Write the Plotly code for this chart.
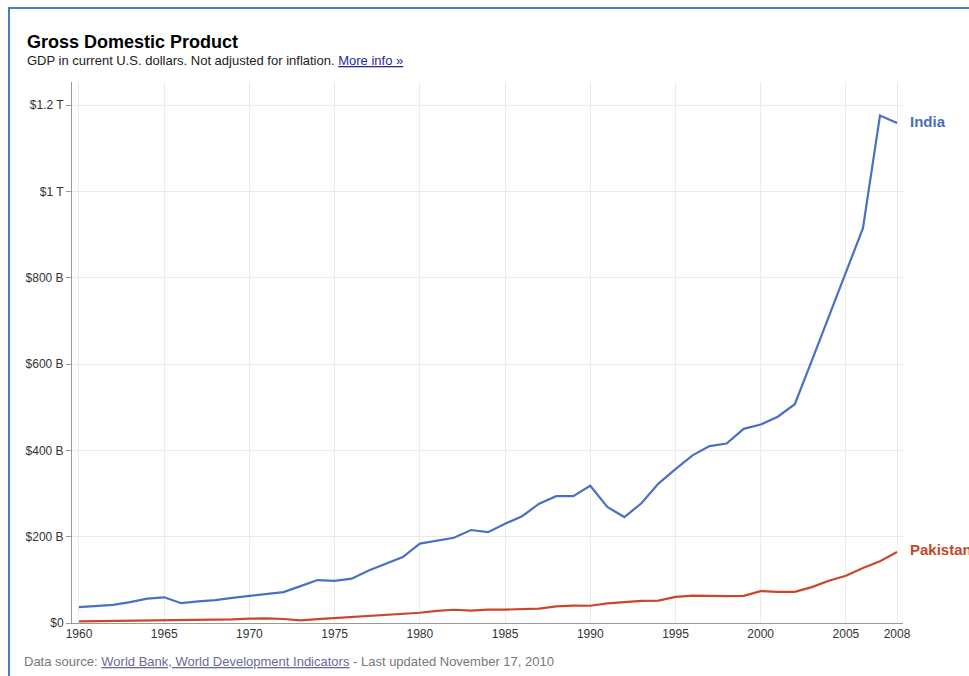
import plotly.graph_objects as go

years = list(range(1960, 2009))
india_gdp_b = [36.6, 39.2, 42.2, 48.4, 56.5, 59.6, 45.9, 50.1, 53.1, 58.4,
               62.4, 67.4, 71.5, 85.5, 99.5, 97.5, 102.7, 121.5, 137.3, 152.9,
               184.0, 190.5, 197.5, 215.5, 210.5, 230.0, 247.5, 276.5, 294.0, 294.0,
               318.0, 269.0, 245.5, 277.5, 323.0, 356.5, 388.5, 410.0, 416.0, 450.0,
               460.0, 478.0, 507.0, 608.0, 709.0, 812.0, 915.0, 1176.0, 1159.0]
pakistan_gdp_b = [3.7, 4.1, 4.3, 4.7, 5.3, 5.9, 6.6, 7.2, 7.6, 8.3,
                  10.0, 10.6, 9.3, 6.3, 8.8, 11.3, 13.3, 15.1, 17.8, 19.7,
                  23.7, 28.1, 30.7, 28.7, 31.1, 31.1, 31.8, 33.4, 38.5, 40.2,
                  40.0, 45.5, 48.6, 51.5, 51.8, 60.6, 63.3, 62.4, 62.2, 62.9,
                  74.0, 72.3, 72.3, 83.2, 98.1, 109.5, 127.5, 143.0, 164.5]
series_names = ["India", "Pakistan"]
x_tickvals = [1960, 1965, 1970, 1975, 1980, 1985, 1990, 1995, 2000, 2005, 2008]
y_tickvals = [0, 200, 400, 600, 800, 1000, 1200]
y_ticktext = ["$0", "$200 B", "$400 B", "$600 B", "$800 B", "$1 T", "$1.2 T"]

W, H = 969, 676
L, R, T, B = 72, 903, 82, 623
font = "Liberation Sans, Arial, sans-serif"
c_india = "#4A70C4"
c_pak = "#C9472B"


def px(xp):
    return (xp - L) / (R - L)


def py(yp):
    return (B - yp) / (B - T)


fig = go.Figure()
fig.add_trace(go.Scatter(x=years, y=india_gdp_b, mode="lines", name=series_names[0],
                         line=dict(color=c_india, width=2.2)))
fig.add_trace(go.Scatter(x=years, y=pakistan_gdp_b, mode="lines", name=series_names[1],
                         line=dict(color=c_pak, width=2.2)))

fig.update_layout(
    width=W, height=H,
    margin=dict(l=L, r=W - R, t=T, b=H - B, pad=0),
    paper_bgcolor="white", plot_bgcolor="white",
    showlegend=False,
    font=dict(family=font, size=12, color="#333333"),
    xaxis=dict(range=[1959.59, 2008.35], tickvals=x_tickvals, ticks="",
               showgrid=True, gridcolor="#ebebeb", gridwidth=1,
               showline=True, linecolor="#999999", linewidth=1,
               zeroline=False, tickfont=dict(size=12, color="#333333")),
    yaxis=dict(range=[0, 1253.8], tickvals=y_tickvals, ticktext=y_ticktext,
               ticks="outside", ticklen=5, tickcolor="#999999",
               showgrid=True, gridcolor="#ebebeb", gridwidth=1,
               showline=True, linecolor="#999999", linewidth=1,
               zeroline=False, tickfont=dict(size=12, color="#333333")),
)

# blue frame (left and top edges)
fig.add_shape(type="line", xref="paper", yref="paper",
              x0=px(9), x1=px(9), y0=py(8), y1=py(H + 5),
              line=dict(color="#4A7CC4", width=2))
fig.add_shape(type="line", xref="paper", yref="paper",
              x0=px(8), x1=px(W + 5), y0=py(8), y1=py(8),
              line=dict(color="#4A7CC4", width=2))

fig.add_annotation(xref="paper", yref="paper", x=px(25), y=py(42),
                   text="<b>Gross Domestic Product</b>", showarrow=False,
                   xanchor="left", yanchor="middle",
                   font=dict(family=font, size=18, color="#000000"))
fig.add_annotation(xref="paper", yref="paper", x=px(25), y=py(61),
                   text="GDP in current U.S. dollars. Not adjusted for inflation. "
                        "<span style='color:#2a2a9a'><u>More info »</u></span>",
                   showarrow=False, xanchor="left", yanchor="middle",
                   font=dict(family=font, size=13, color="#222222"))
fig.add_annotation(xref="paper", yref="paper", x=px(22), y=py(661),
                   text="Data source: <span style='color:#6a6a9a'><u>World Bank, World Development Indicators</u></span>"
                        " - Last updated November 17, 2010",
                   showarrow=False, xanchor="left", yanchor="middle",
                   font=dict(family=font, size=13, color="#777777"))

fig.add_annotation(x=years[-1], y=india_gdp_b[-1] + 3, xref="x", yref="y",
                   text="<b>India</b>", showarrow=False, xanchor="left",
                   yanchor="middle", xshift=11,
                   font=dict(family=font, size=15, color="#4A6FB5"))
fig.add_annotation(x=years[-1], y=pakistan_gdp_b[-1] + 5, xref="x", yref="y",
                   text="<b>Pakistan</b>", showarrow=False, xanchor="left",
                   yanchor="middle", xshift=11,
                   font=dict(family=font, size=15, color="#C4472A"))

fig.write_html("out.html")
